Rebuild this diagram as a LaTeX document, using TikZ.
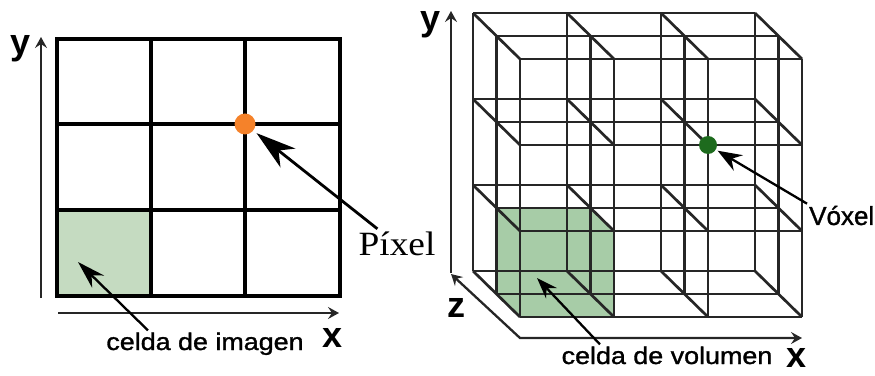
\documentclass[tikz,border=0pt]{standalone}
\usepackage{fontspec}
\setmainfont{Liberation Sans}
\newfontfamily\romana{Liberation Serif}
\newfontfamily\gruesa[FakeBold=1.2]{Liberation Sans}
\usetikzlibrary{arrows.meta}
\definecolor{celdaverde}{RGB}{197,219,193}
\definecolor{cuboverde}{RGB}{167,204,167}
\definecolor{naranja}{RGB}{245,130,42}
\definecolor{voxverde}{RGB}{30,107,30}

\begin{document}
\begin{tikzpicture}[x=1pt, y=1pt,
    rejilla/.style={line width=4.3pt, black},
    malla/.style={line width=2.7pt, black!85},
    eje/.style={line width=2.3pt, black!85},
    punta/.tip={Stealth[length=11pt,width=12pt,inset=4pt]},
    flecha/.style={line width=2.3pt, black},
    letra/.style={font=\fontsize{36}{36}\selectfont\bfseries, inner sep=0pt},
    rotulo/.style={font=\gruesa\fontsize{24}{24}\selectfont, xscale=1.12, transform shape, inner sep=2pt, anchor=base}]
    \useasboundingbox (0,0) rectangle (875,375);

    % (a) imagen 2D
    \begin{scope}
        \fill[celdaverde] (57,79) rectangle (151,165);
        \foreach \gx in {151,245} \draw[rejilla] (\gx,79) -- (\gx,336);
        \foreach \gy in {165,251} \draw[rejilla] (57,\gy) -- (340,\gy);
        \draw[rejilla] (57,79) rectangle (340,336);
        \node[circle,fill=naranja,inner sep=0pt,minimum size=21pt] (pixel) at (245,251) {};

        \draw[eje,-punta] (41,77) -- (41,338);
        \draw[eje,-punta] (58,62) -- (339,62);
        \node[letra] (y1) at (21,326.5) {y};
        \node[letra] (x1) at (333,37) {x};

        \node[font=\romana\fontsize{34}{34}\selectfont, xscale=1.1, transform shape, anchor=base] (pixlabel) at (397,119) {Píxel};
        \draw[flecha, line width=2.8pt, shorten >=4pt, -{Stealth[length=40pt,width=24pt,inset=12pt]}] (pixlabel) -- (pixel);

        \node[rotulo] (imglabel) at (205,25) {celda de imagen};
        \coordinate (imgtip) at (78,113);
        \draw[flecha, -{Stealth[length=28pt,width=17pt,inset=9pt]}] ([xshift=-57pt]imglabel.north) -- (imgtip);
    \end{scope}

    % (b) volumen 3D
    \begin{scope}[shift={(520,58)}, x={(94pt,0pt)}, y={(0pt,86pt)}, z={(-23.5pt,23pt)}]
        \fill[cuboverde] (0,0,0) -- (1,0,0) -- (1,1,0) -- (1,1,1) -- (0,1,1) -- (0,0,1) -- cycle;
        \foreach \k in {0,1,2} {
            \foreach \i in {0,...,3} \draw[malla] (\i,0,\k) -- (\i,3,\k);
            \foreach \j in {0,...,3} \draw[malla] (0,\j,\k) -- (3,\j,\k);
        }
        \foreach \i in {0,...,3} \foreach \j in {0,...,3} \draw[malla] (\i,\j,0) -- (\i,\j,2);
        \node[circle,fill=voxverde,inner sep=0pt,minimum size=18pt] (voxel) at (2,2,0) {};
    \end{scope}

    \draw[eje,-punta] (451,102) -- (451,364);
    \draw[eje,punta-punta] (451,101) -- (520,37) -- (802,37);
    \node[letra] (y2) at (431,350) {y};
    \node[letra] (z2) at (456,67.5) {z};
    \node[letra] (x2) at (796,17.5) {x};

    \node[font=\gruesa\fontsize{26}{26}\selectfont, inner sep=2pt, anchor=base west] (voxlabel) at (807,150) {Vóxel};
    \draw[flecha, shorten >=2pt, -{Stealth[length=24pt,width=18pt,inset=8pt]}] (voxlabel.north west) -- (voxel);

    \node[rotulo] (vollabel) at (667,11) {celda de volumen};
    \coordinate (voltip) at (537,97);
    \draw[flecha, -{Stealth[length=21pt,width=15pt,inset=7pt]}] ([xshift=-67pt]vollabel.north) -- (voltip);
\end{tikzpicture}
\end{document}
